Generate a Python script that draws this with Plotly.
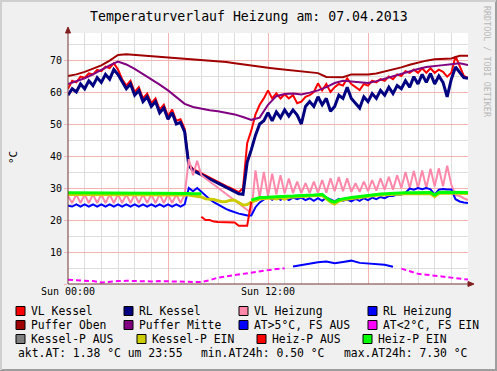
import plotly.graph_objects as go
import pandas as pd

TITLE = "Temperaturverlauf Heizung am: 07.04.2013"

# time grids (15 min and 30 min samples over the day)
T15 = pd.date_range("2013-04-07 00:00", periods=97, freq="15min")
T30 = pd.date_range("2013-04-07 00:00", periods=49, freq="30min")

VL_KESSEL = [61, 63.5, 63, 64.8, 64.5, 65.8, 65.5, 66.9, 66.5, 67.9, 67.5, 69, 67,
             64, 62, 63.5, 60, 61.5, 58, 59.5, 56.5, 58, 54.5, 56, 52.5, 54.5, 51, 51.5, 48.5,
             37.5, 36, 35.3, 34.6, 34, 33.3, 32.6, 32, 31.3, 30.6, 30, 29.3, 28.7, 30,
             44, 48, 53, 56, 58,
             60.5, 58, 59.6, 58, 59.3, 58, 59, 56.5,
             57, 58.5, 59, 60, 62.7, 60.5, 62.5, 60,
             61.5, 62.5, 62, 64.3, 62.5, 61.5, 60.6, 62.5,
             62, 63.5, 63, 64, 63.5, 64.8, 64, 65.5,
             65, 66.5, 66, 67, 66, 67.4, 66, 67.4,
             66, 67, 66.3, 64.8, 66, 71.2, 68, 65, 64.3]

RL_KESSEL = [59, 61, 60, 62.5, 61, 63.5, 62, 64.5, 63, 65.5, 64, 67, 65.5,
             63, 61, 62.5, 59, 60.5, 57, 58.5, 55.5, 57, 53.5, 55, 51.5, 53.5, 50, 50.5, 47.5,
             37, 35.5, 34.8, 34.2, 33.5, 32.8, 32.2, 31.5, 30.8, 30.2, 29.5, 28.8, 28.2, 28,
             38, 42, 46.5, 50, 51,
             53.5, 51, 53.8, 52, 54.4, 52.5, 54.4, 52.8,
             50, 55.5, 57, 55.5, 58.5, 56, 58, 54,
             55.5, 59, 58, 61.5, 58, 56.5, 55, 58.5,
             57, 59.5, 58, 60.5, 59, 61.5, 59.5, 62,
             61, 63.5, 61.5, 64.8, 62.5, 65.5, 63, 65.8,
             62.5, 65, 63, 58.5, 64, 67.8, 66, 64.5, 64.3]

VL_HEIZUNG = [27.5, 25.3, 28, 25.3, 28, 25.3, 28, 25.3, 28, 25.3, 28, 25.3, 28, 25.3, 28,
              25.3, 28, 25.3, 28, 25.3, 28, 25.3, 28, 25.3, 28, 25.3, 28, 25.3, 28,
              39, 34, 38.5, 34,
              33, 32, 31, 30, 29, 28, 27, 26, 25, 24, 23, 22.2,
              35.5, 27, 35, 27.5, 34.5, 28, 34, 28.3, 33, 28.4, 32, 28.4, 31.5, 28.4, 32, 28.5,
              32.5, 28.5, 33, 29, 33.4, 29, 33, 28.8, 31.5, 28.8, 32, 29, 32.5, 29.2, 33, 29.5,
              33.5, 29.5, 34, 30, 35, 30, 35.3, 30, 35.5, 30, 36, 30.5, 36.2, 30.5, 37, 31,
              27.8, 27.5, 26.8, 26.2]

RL_HEIZUNG = [24.5, 24.2, 24.9, 24.2, 24.9, 24.2, 24.9, 24.2, 24.9, 24.2, 24.9, 24.2, 24.9, 24.2, 24.9,
              24.2, 24.9, 24.2, 24.9, 24.2, 24.9, 24.2, 24.9, 24.2, 24.9, 24.2, 24.9, 24.2, 24.9,
              30, 29, 30, 28.8, 27.5, 26.5, 25.6, 24.8, 24, 23.4, 22.9, 22.4, 22, 21.7, 21.4, 21.4,
              24, 25.5, 26.5, 27.3, 26.3, 27.2, 26.3, 27, 26.2, 27, 26.5, 27, 26.2, 26.8, 26, 26.8,
              26, 27, 26.4, 25.8, 26.6, 26, 26.4, 25.8, 26.6, 26, 26.8, 26.2, 27, 26.5, 27.2, 26.8,
              27.5, 27.5, 28, 28, 28.5, 29.8, 29.5, 30, 29.6, 30, 29.6, 27.9, 29.5, 29.7, 29.5, 29.5,
              26.5, 25.8, 25.5, 25.3]

PUFFER_OBEN = [65, 65.5, 66.3, 67.3, 68.3, 69.8, 71.6, 71.8, 71.6, 71.4, 71.2, 71.1, 70.9, 70.8,
               70.6, 70.4, 70.2, 70.0, 69.7, 69.4, 69.0, 68.6, 68.2, 67.9, 67.6, 67.3, 67.0, 66.7,
               66.4, 66.1, 65.9, 64.7, 64.6, 64.6, 65.5, 65.5, 65.5, 65.8, 66.4, 67.0, 67.7, 68.5,
               69.2, 69.8, 70.2, 70.4, 70.5, 71.3, 71.3]

PUFFER_MITTE = [62.5, 63.3, 64.3, 65.5, 67, 68.3, 69.5, 68.6, 67.2, 65.6, 64, 62.3, 60.5, 58.3,
                56.3, 55.3, 54.7, 54.3, 54, 53.5, 53, 52.2, 51.3, 52, 56, 58.7, 59.4, 59.5, 59.2,
                59.8, 60.5, 61.5, 62.8, 63.5, 63.3, 63, 62.8, 63.4, 64.2, 65, 65.8, 66.6, 67.2,
                67.8, 68.2, 68.4, 68.7, 69, 68.4]

AUSSEN_TEMP = [1.3, 1.2, 1.0, 0.9, 0.5, 0.8, 0.9, 1.0, 0.9, 0.9, 0.8, 0.9, 0.8, 0.7, 0.8, 0.7, 0.6,
               1.2, 2.0, 2.4, 2.8, 3.2, 3.6, 4.0, 4.4, 4.7, 4.9,
               5.5, 6.0, 6.5, 6.8, 7.0, 6.5, 6.9, 7.3, 6.6, 6.4, 6.3, 6.0, 5.4,
               4.8, 4.0, 3.2, 2.9, 2.6, 2.2, 1.9, 1.6, 1.38]

KESSEL_P_EIN = [28.0, 28.0, 28.0, 28.0, 28.0, 28.0, 28.0, 28.0, 28.0, 28.0, 28.0, 28.0, 28.0, 28.0,
                28.0, 28.0, 28.0, 27.9, 27.9, 27.9, 27.9, 27.9, 27.9, 27.9, 27.9, 27.9, 27.9, 27.9, 27.9,
                27.8, 27.6, 27.4, 27.2,
                26.6, 26.5, 26.4, 26.0, 25.7, 25.8, 26.2, 26.2, 25.5, 24.7, 24.8, 25.6,
                26.1, 26.6, 26.7, 26.9, 26.9, 26.6, 27.0, 26.5, 27.1, 27.2, 27.3, 27.3, 27.4, 27.5,
                27.5, 27.6, 27.7,
                26.6, 25.6, 25.0, 25.9, 26.3, 26.6, 26.7, 26.9, 27.1, 27.3, 27.5, 27.6, 27.7, 27.8,
                27.9, 28.0, 28.0, 28.1, 28.1, 28.2, 28.2, 28.2, 28.3, 28.3, 28.3, 28.3, 27.3, 28.3,
                28.4, 28.4, 28.4, 28.3, 28.3, 28.3, 28.3]

HEIZ_P_AUS = [None, None, None, None, None, None, None, None, None, None, None, None, None, None,
              None, None, None, None, None, None, None, None, None, None, None, None, None, None,
              None, None, None, None,
              21, 20, 20, 19.5, 19.4, 19.4, 19.4, 19.2, 19.2, 18.2, 18.2, 18.2, 25.7,
              None, None, None, None, None, None, None, None, None, None, None, None, None,
              None, None, None, None, None, None, None, None, None, None, None, None, None,
              None, None, None, None, None, None, None, None, None, None, None, None, None,
              None, None, None, None, None, None, None, None, None, None, None, None, None]

HEIZ_P_EIN = [28.5, 28.5, 28.5, 28.5, 28.5, 28.5, 28.5, 28.5, 28.5, 28.5, 28.5, 28.4, 28.4, 28.4,
              28.4, 28.4, 28.4, 28.3, 28.3, 28.3, 28.3, 28.3, 28.3, 28.3, 28.3, 28.3, 28.3, 28.3,
              28.3, 28.3, 28.2, 28.2, 28.2,
              None, None, None, None, None, None, None, None, None, None, None,
              26.2, 26.5, 27, 27, 27.2, 27.2, 27.3, 27.3, 27.4, 27.5, 27.5, 27.6, 27.6, 27.7, 27.8,
              27.8, 27.9, 28,
              27, 26, 25.6, 26.3, 26.6, 26.9, 27, 27.2, 27.4, 27.6, 27.8, 27.9, 28, 28.1, 28.2,
              28.3, 28.3, 28.4, 28.4, 28.5, 28.5, 28.5, 28.6, 28.6, 28.6, 28.6, 27.8, 28.6, 28.7,
              28.7, 28.7, 28.6, 28.6, 28.6, 28.6]

LEGEND_NAMES = ["VL Kessel", "RL Kessel", "VL Heizung", "RL Heizung",
                "Puffer Oben", "Puffer Mitte", "AT>5°C, FS AUS", "AT<2°C, FS EIN",
                "Kessel-P AUS", "Kessel-P EIN", "Heiz-P AUS", "Heiz-P EIN"]
LEGEND_COLORS = ["#FF0000", "#000080", "#FF88AA", "#0000FF",
                 "#A00000", "#800080", "#0000FF", "#FF00FF",
                 "#808080", "#CCCC00", "#FF0000", "#00FF00"]
INFO_TEXTS = ["akt.AT: 1.38 °C um 23:55", "min.AT24h: 0.50 °C", "max.AT24h: 7.30 °C"]
X_TICK_TEXT = ["Sun 00:00", "", "Sun 12:00", ""]
WATERMARK = "RRDTOOL / TOBI OETIKER"

# outdoor temperature split by threshold
AT_WARM = [v if v > 5 else None for v in AUSSEN_TEMP]
AT_COLD = [v if v <= 5 else None for v in AUSSEN_TEMP]

W, H = 497, 371
L, R, TOP, BOT = 68, 468, 33, 284


def px(x):
    return (x - L) / (R - L)


def py(y):
    return (BOT - y) / (BOT - TOP)


fig = go.Figure()


def add(x, y, color, width, dash=None):
    fig.add_trace(go.Scatter(x=x, y=y, mode="lines", connectgaps=False,
                             line=dict(color=color, width=width, dash=dash),
                             hoverinfo="skip"))


add(T15, VL_KESSEL, "#FF0000", 2)
add(T15, RL_KESSEL, "#000080", 3)
add(T15, VL_HEIZUNG, "#FF88AA", 2)
add(T15, RL_HEIZUNG, "#0000FF", 2)
add(T30, PUFFER_OBEN, "#A00000", 2)
add(T30, PUFFER_MITTE, "#800080", 2)
add(T30, AT_WARM, "#0000FF", 2)
add(T30, AT_COLD, "#FF00FF", 2, "5px,3px")
add(T15, KESSEL_P_EIN, "#CCCC00", 3)
add(T15, HEIZ_P_AUS, "#FF0000", 2)
add(T15, HEIZ_P_EIN, "#00FF00", 3)

MAJOR = "#F4B4B4"
MINOR = "#DEDEDE"

fig.update_layout(
    width=W, height=H,
    margin=dict(l=L, r=W - R, t=TOP, b=H - BOT, autoexpand=False),
    paper_bgcolor="#F0F0F0", plot_bgcolor="#FFFFFF",
    showlegend=False,
    font=dict(family="DejaVu Sans Mono", size=10, color="#000000"),
    xaxis=dict(type="date", automargin=False,
               range=["2013-04-07 00:00", "2013-04-08 00:00"],
               tickmode="array",
               tickvals=["2013-04-07 00:00", "2013-04-07 06:00",
                         "2013-04-07 12:00", "2013-04-07 18:00"],
               ticktext=X_TICK_TEXT,
               showgrid=True, gridcolor=MAJOR, gridwidth=1,
               zeroline=False, showline=False, ticks="",
               tickfont=dict(size=10),
               minor=dict(tickmode="linear", tick0="2013-04-07", dtick=3600000,
                          showgrid=True, gridcolor=MINOR, gridwidth=1),
               fixedrange=True),
    yaxis=dict(range=[0, (BOT - TOP) / 3.2], automargin=False,
               tickmode="array",
               tickvals=[0, 10, 20, 30, 40, 50, 60, 70],
               ticktext=["", "10", "20", "30", "40", "50", "60", "70"],
               showgrid=True, gridcolor=MAJOR, gridwidth=1,
               zeroline=False, showline=False,
               ticks="outside", ticklen=3, tickcolor=MAJOR,
               tickfont=dict(size=10),
               minor=dict(tickmode="linear", tick0=0, dtick=5,
                          showgrid=True, gridcolor=MINOR, gridwidth=1),
               fixedrange=True),
)

shapes = []
AX = "#6E3535"
ARROW = "#7F1F1F"
# axes
shapes.append(dict(type="line", xref="paper", yref="paper", x0=px(68), x1=px(470), y0=py(284), y1=py(284),
                   line=dict(color=AX, width=1), layer="above"))
shapes.append(dict(type="line", xref="paper", yref="paper", x0=px(68), x1=px(68), y0=py(284), y1=py(30),
                   line=dict(color=AX, width=1), layer="above"))
# arrows
shapes.append(dict(type="path", xref="paper", yref="paper",
                   path="M {} {} L {} {} L {} {} Z".format(px(65.5), py(33), px(70.5), py(33), px(68), py(27)),
                   fillcolor=ARROW, line=dict(color=ARROW, width=1), layer="above"))
shapes.append(dict(type="path", xref="paper", yref="paper",
                   path="M {} {} L {} {} L {} {} Z".format(px(468), py(281.5), px(468), py(286.5), px(474), py(284)),
                   fillcolor=ARROW, line=dict(color=ARROW, width=1), layer="above"))
# image border shading
shapes.append(dict(type="line", xref="paper", yref="paper", x0=px(0), x1=px(497), y0=py(370), y1=py(370),
                   line=dict(color="#9E9E9E", width=2)))
shapes.append(dict(type="line", xref="paper", yref="paper", x0=px(496), x1=px(496), y0=py(0), y1=py(371),
                   line=dict(color="#9E9E9E", width=2)))
shapes.append(dict(type="line", xref="paper", yref="paper", x0=px(0), x1=px(496), y0=py(1), y1=py(1),
                   line=dict(color="#CFCFCF", width=2)))
shapes.append(dict(type="line", xref="paper", yref="paper", x0=px(1), x1=px(1), y0=py(0), y1=py(370),
                   line=dict(color="#CFCFCF", width=2)))

annotations = []
annotations.append(dict(text=TITLE, x=px(249), y=py(16), xref="paper", yref="paper",
                        xanchor="center", yanchor="middle", showarrow=False,
                        font=dict(family="DejaVu Sans Mono", size=13.2, color="#000000")))
annotations.append(dict(text="°C", x=px(13), y=py(157), xref="paper", yref="paper",
                        xanchor="center", yanchor="middle", showarrow=False, textangle=-90,
                        font=dict(family="DejaVu Sans Mono", size=11, color="#000000")))
annotations.append(dict(text=WATERMARK, x=px(487), y=py(62), xref="paper", yref="paper",
                        xanchor="center", yanchor="middle", showarrow=False, textangle=90,
                        font=dict(family="DejaVu Sans Mono", size=8.4, color="#B8B8B8")))

BOX_X = [[16, 124, 239, 368], [16, 124, 239, 368], [16, 137, 257, 363]]
ROW_Y = [311, 325, 339]
LEG_FONT = dict(family="DejaVu Sans Mono", size=11.4, color="#000000")
for r in range(3):
    for c in range(4):
        k = r * 4 + c
        bx = BOX_X[r][c]
        yc = ROW_Y[r]
        shapes.append(dict(type="rect", xref="paper", yref="paper",
                           x0=px(bx), x1=px(bx + 9), y0=py(yc + 4.5), y1=py(yc - 4.5),
                           fillcolor=LEGEND_COLORS[k], line=dict(color="#000000", width=1)))
        annotations.append(dict(text=LEGEND_NAMES[k], x=px(bx + 13), y=py(yc), xref="paper", yref="paper",
                                xanchor="left", yanchor="middle", showarrow=False, font=LEG_FONT))

for txt, xx in zip(INFO_TEXTS, [16, 199, 342]):
    annotations.append(dict(text=txt, x=px(xx), y=py(353), xref="paper", yref="paper",
                            xanchor="left", yanchor="middle", showarrow=False, font=LEG_FONT))

fig.update_layout(shapes=shapes, annotations=annotations)

fig.write_html("out.html", config={"displayModeBar": False},
               post_script="document.body.style.margin='0px';")
